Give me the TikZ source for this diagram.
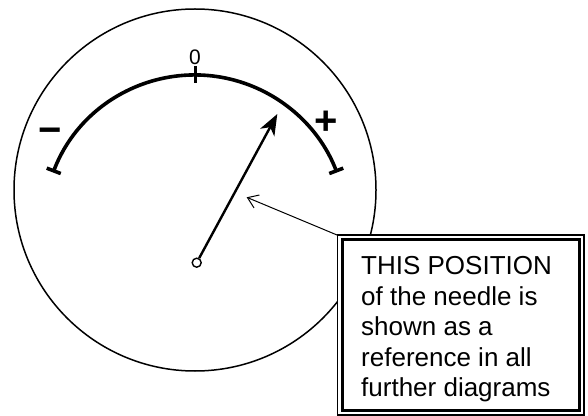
\documentclass[tikz,border=0pt]{standalone}
\usepackage{fontspec}
\setmainfont{Liberation Sans}
\usetikzlibrary{arrows.meta}
\begin{document}
\begin{tikzpicture}[x=1pt,y=1pt,
  dialface/.style={line width=1.5pt},
  scalearc/.style={line width=3.6pt,{Bar[width=15pt]}-{Bar[width=15pt]}},
  needle/.style={line width=2.4pt,-{Stealth[length=21pt,width=16pt,inset=6pt]}},
  pointer/.style={line width=1pt,-{Straight Barb[length=10pt,width=14pt]}},
  notetext/.style={font=\fontsize{26}{30}\selectfont,anchor=base west,inner sep=0pt},
  signlabel/.style={font=\bfseries\fontsize{40}{40}\selectfont,inner sep=0pt}]
\useasboundingbox (0,0) rectangle (588,415);
% dial face
\coordinate (dc) at (195,225);
\draw[dialface] (dc) circle[radius=181];
% scale arc
\coordinate (ac) at (195,188);
\coordinate (aleft) at ([shift={(159:152)}]ac);
\coordinate (atop) at ([shift={(90:152)}]ac);
\draw[scalearc] (aleft) arc[start angle=159,end angle=21,radius=152];
\draw[line width=3pt] ([yshift=9pt]atop) -- ([yshift=-8pt]atop);
\node[font=\fontsize{21}{21}\selectfont,inner sep=0pt] (zero) at (195,358) {0};
\node[signlabel] (minus) at (50,279.5) {−};
\node[signlabel] (plus) at (326.3,292.3) {+};
% needle
\node[circle,draw,line width=1.4pt,fill=white,minimum size=9pt,inner sep=0pt] (pivot) at (196.7,152.3) {};
\coordinate (tip) at (277.3,301);
\draw[needle] (pivot) -- (tip);
% callout
\coordinate (ctip) at (246.7,217.7);
\node[draw,line width=1.8pt,fill=white,anchor=north west,outer sep=0pt,inner sep=0pt,
      minimum width=246.5pt,minimum height=179.5pt] (box) at (337.5,179.8) {};
\draw[pointer] (box.north west) -- (ctip);
\draw[line width=3pt] ([shift={(4.5,-4.5)}]box.north west) rectangle ([shift={(-4.5,4.5)}]box.south east);
\node[notetext] (l1) at (361,140) {THIS POSITION};
\node[notetext] (l2) at (361,110) {of the needle is};
\node[notetext] (l3) at (361,80) {shown as a};
\node[notetext] (l4) at (361,49) {reference in all};
\node[notetext] (l5) at (361,19) {further diagrams};
\end{tikzpicture}
\end{document}
